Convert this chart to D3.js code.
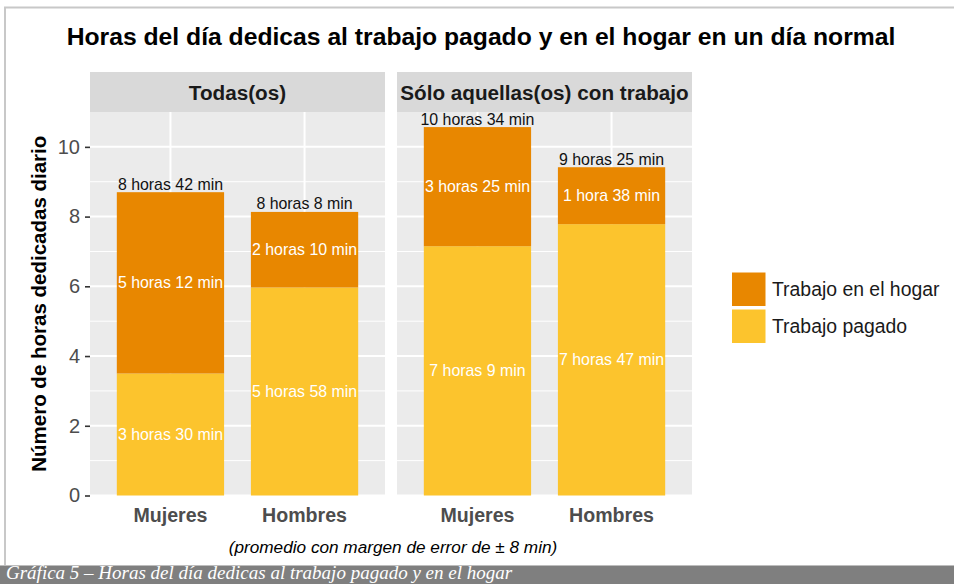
<!DOCTYPE html>
<html><head><meta charset="utf-8">
<script src="https://cdn.jsdelivr.net/npm/d3@7"></script>
<style>body{margin:0;background:#fff;} svg{display:block;font-family:"Liberation Sans",Arial,sans-serif;}</style>
</head><body><svg id="c" width="954" height="584"></svg>
<script>
const facets = ["Todas(os)", "Sólo aquellas(os) con trabajo"];
const categories = ["Mujeres", "Hombres"];
const seriesNames = ["Trabajo en el hogar", "Trabajo pagado"];
// hours per facet, per category
const pagado = [[3.5, 5.967], [7.15, 7.783]];
const hogar = [[5.2, 2.167], [3.417, 1.633]];
const pagadoLabels = [["3 horas 30 min", "5 horas 58 min"], ["7 horas 9 min", "7 horas 47 min"]];
const hogarLabels = [["5 horas 12 min", "2 horas 10 min"], ["3 horas 25 min", "1 hora 38 min"]];
const totalLabels = [["8 horas 42 min", "8 horas 8 min"], ["10 horas 34 min", "9 horas 25 min"]];
const yTicks = [0, 2, 4, 6, 8, 10];
const yMinor = [1, 3, 5, 7, 9];
const title = "Horas del día dedicas al trabajo pagado y en el hogar en un día normal";
const yTitle = "Número de horas dedicadas diario";
const caption = "(promedio con margen de error de ± 8 min)";
const footer = "Gráfica 5 – Horas del día dedicas al trabajo pagado y en el hogar";

const colors = {"Trabajo en el hogar": "#E88700", "Trabajo pagado": "#FCC42D"};

const svg = d3.select("#c");
// outer frame
svg.append("rect").attr("x", 5).attr("y", 7.5).attr("width", 960).attr("height", 560)
  .attr("fill", "#fff").attr("stroke", "#c8c8c8").attr("stroke-width", 2);

svg.append("text").attr("x", 481).attr("y", 45).attr("text-anchor", "middle")
  .attr("font-size", 24.7).attr("font-weight", "bold").attr("fill", "#000").text(title);

const panelTop = 112, panelBottom = 495.5, stripTop = 72;
const panelX = [90, 397], panelW = 295;
const y = d3.scaleLinear().domain([0, 11]).range([panelBottom, panelTop]);

facets.forEach((f, fi) => {
  const x0 = panelX[fi];
  // discrete scale like ggplot: 0.6 unit expansion each side, bar width 0.8 unit
  const x = d3.scalePoint().domain(categories).range([x0 + panelW * 0.6 / 2.2, x0 + panelW * 1.6 / 2.2]);
  const unit = panelW / 2.2;
  const cx = c => x(c);
  const bw = 0.8 * unit;
  const g = svg.append("g");
  g.append("rect").attr("x", x0).attr("y", stripTop).attr("width", panelW).attr("height", panelTop - stripTop).attr("fill", "#D9D9D9");
  g.append("text").attr("x", x0 + panelW / 2).attr("y", 99.5).attr("text-anchor", "middle")
    .attr("font-size", 20.7).attr("font-weight", "bold").attr("fill", "#1A1A1A").text(f);
  g.append("rect").attr("x", x0).attr("y", panelTop).attr("width", panelW).attr("height", panelBottom - panelTop).attr("fill", "#EBEBEB");
  yMinor.forEach(t => g.append("line").attr("x1", x0).attr("x2", x0 + panelW).attr("y1", y(t)).attr("y2", y(t)).attr("stroke", "#fff").attr("stroke-width", 1));
  yTicks.forEach(t => g.append("line").attr("x1", x0).attr("x2", x0 + panelW).attr("y1", y(t)).attr("y2", y(t)).attr("stroke", "#fff").attr("stroke-width", 2));
  categories.forEach(c => g.append("line").attr("x1", cx(c)).attr("x2", cx(c)).attr("y1", panelTop).attr("y2", panelBottom).attr("stroke", "#fff").attr("stroke-width", 2));
  categories.forEach((c, ci) => {
    const p = pagado[fi][ci], h = hogar[fi][ci];
    g.append("rect").attr("x", cx(c) - bw / 2).attr("width", bw).attr("y", y(p)).attr("height", y(0) - y(p)).attr("fill", colors["Trabajo pagado"]);
    g.append("rect").attr("x", cx(c) - bw / 2).attr("width", bw).attr("y", y(p + h)).attr("height", y(p) - y(p + h)).attr("fill", colors["Trabajo en el hogar"]);
    g.append("text").attr("x", cx(c)).attr("y", y(p / 2)).attr("dy", "0.35em").attr("text-anchor", "middle")
      .attr("font-size", 15.9).attr("fill", "#fff").text(pagadoLabels[fi][ci]);
    g.append("text").attr("x", cx(c)).attr("y", y(p + h / 2)).attr("dy", "0.35em").attr("text-anchor", "middle")
      .attr("font-size", 15.9).attr("fill", "#fff").text(hogarLabels[fi][ci]);
    g.append("text").attr("x", cx(c)).attr("y", y(p + h) - 2.5).attr("text-anchor", "middle")
      .attr("font-size", 15.9).attr("fill", "#111").text(totalLabels[fi][ci]);
    g.append("text").attr("x", cx(c)).attr("y", 521.5).attr("text-anchor", "middle")
      .attr("font-size", 19.6).attr("font-weight", "bold").attr("fill", "#4D4D4D").text(c);
  });
});

// y axis
const yAxis = svg.append("g").attr("transform", "translate(90,0)")
  .call(d3.axisLeft(y).tickValues(yTicks).tickSize(5).tickPadding(5));
yAxis.select(".domain").remove();
yAxis.selectAll(".tick line").attr("stroke", "#333").attr("stroke-width", 1.6);
yAxis.selectAll(".tick text").attr("font-size", 20).attr("fill", "#4D4D4D").attr("font-family", "Liberation Sans, Arial, sans-serif");

svg.append("text").attr("transform", "translate(46," + ((panelTop + panelBottom) / 2) + ") rotate(-90)")
  .attr("text-anchor", "middle").attr("font-size", 20.5).attr("font-weight", "bold").attr("fill", "#000").text(yTitle);

svg.append("text").attr("x", 393).attr("y", 553).attr("text-anchor", "middle")
  .attr("font-size", 17.2).attr("font-style", "italic").attr("fill", "#000").text(caption);

// legend
const leg = svg.append("g");
seriesNames.forEach((s, i) => {
  leg.append("rect").attr("x", 731.5).attr("y", 272 + i * 37).attr("width", 34.5).attr("height", 34.5)
    .attr("fill", colors[s]).attr("stroke", "#fff").attr("stroke-width", 1);
  leg.append("text").attr("x", 772).attr("y", 289.5 + i * 37).attr("dy", "0.35em")
    .attr("font-size", 19.4).attr("fill", "#1A1A1A").text(s);
});

// footer band
svg.append("rect").attr("x", 0).attr("y", 565).attr("width", 954).attr("height", 19).attr("fill", "#7F7F7F");
svg.append("line").attr("x1", 0).attr("x2", 954).attr("y1", 565.5).attr("y2", 565.5).attr("stroke", "#bdbdbd").attr("stroke-width", 1);
svg.append("text").attr("x", 6).attr("y", 579).attr("font-family", "Liberation Serif, Times New Roman, serif")
  .attr("font-style", "italic").attr("font-size", 19).attr("fill", "#fff").text(footer);
</script></body></html>
